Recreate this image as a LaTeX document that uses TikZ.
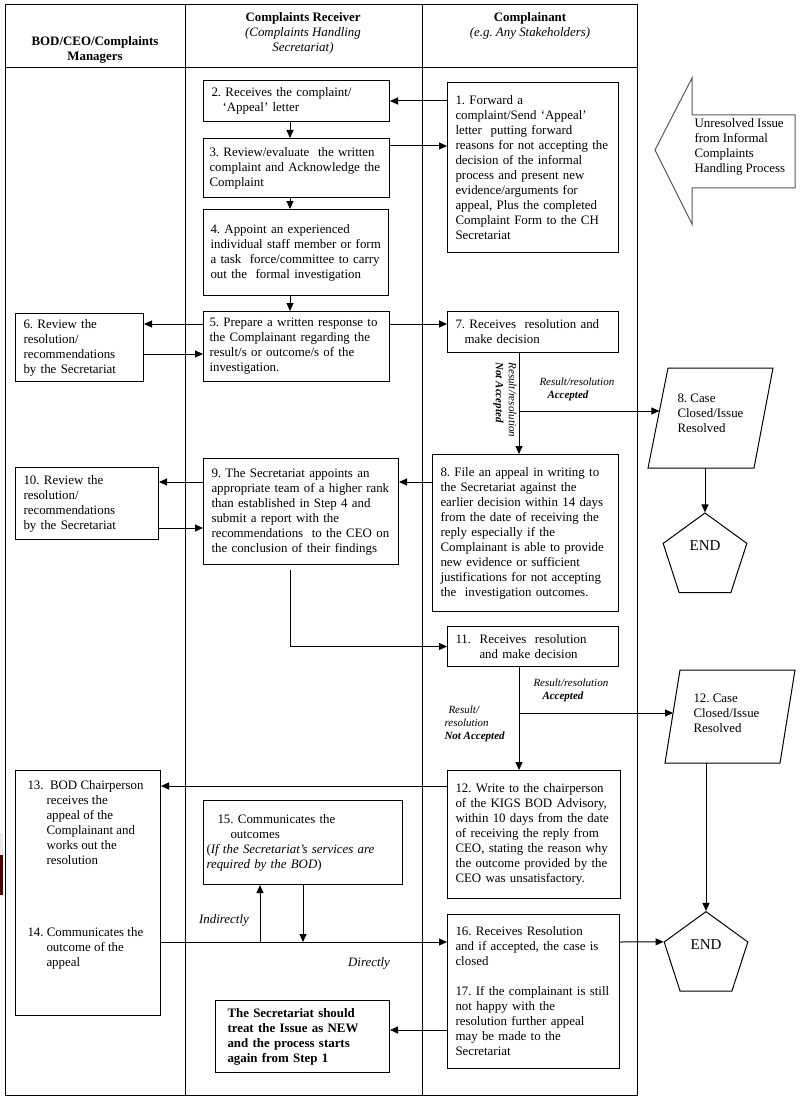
\documentclass[tikz,border=0pt]{standalone}
\usepackage{fontspec}
\setmainfont{Liberation Serif}
\usetikzlibrary{arrows.meta,shapes.geometric}

\begin{document}
\frenchspacing
\begin{tikzpicture}[x=1pt,y=-1pt,>={Triangle[length=8pt,width=7pt]},line width=1pt,
 font=\fontsize{12.9}{15}\selectfont,
 box/.style={draw,anchor=north west,align=left,inner xsep=8pt,inner ysep=0pt},
 txt/.style={anchor=north west,align=left,inner sep=0pt},
 lbl/.style={inner sep=0pt,align=left,font=\fontsize{11}{13}\selectfont\itshape},
 endpent/.style={draw,regular polygon,regular polygon sides=5,minimum size=88pt,inner sep=0pt,font=\fontsize{15}{17}\selectfont}]
\useasboundingbox (0,0) rectangle (803,1102);

% lanes
\draw (5,5) rectangle (637,1095);
\draw (5,68) -- (637,68);
\draw (185,5) -- (185,1095);
\draw (422,5) -- (422,1095);
\fill[black!8] (0,833) rectangle (2.5,855);
\fill[red!35!black] (0,855) rectangle (2.5,895);

\node[align=center,font=\fontsize{12.9}{15}\selectfont\bfseries] (hbod) at (95,50) {BOD/CEO/Complaints\\Managers};
\node[align=center] (hrec) at (303,33) {\textbf{Complaints Receiver}\\\textit{(Complaints Handling}\\\textit{Secretariat)}};
\node[align=center] (hcmp) at (530,26) {\textbf{Complainant}\\\textit{(e.g. Any Stakeholders)}};

\coordinate (lane2) at (290,0);
\coordinate (lane3) at (519,0);

\node[box,minimum width=171pt,minimum height=170pt,text width=155pt] (b1) at (447,82) {1. Forward a\\complaint/Send ‘Appeal’\\letter\ \ putting forward\\reasons for not accepting the\\decision of the informal\\process and present new\\evidence/arguments for\\appeal, Plus the completed\\Complaint Form to the CH\\Secretariat};
\node[box,minimum width=186pt,minimum height=41pt,text width=170pt] (b2) at (203,80) {2. Receives the complaint/\\\hspace*{11pt}‘Appeal’ letter};
\node[box,inner xsep=6pt,minimum width=186pt,minimum height=59pt,text width=174pt] (b3) at (203,138) {3. Review/evaluate\ \ the written\\complaint and Acknowledge the\\Complaint};
\node[box,inner xsep=7pt,minimum width=185pt,minimum height=86pt,text width=171pt] (b4) at (203,209) {4. Appoint an experienced\\individual staff member or form\\a task\ \ force/committee to carry\\out the\ \ formal investigation};
\node[box,inner xsep=6pt,minimum width=186pt,minimum height=70pt,text width=174pt] (b5) at (203,311) {5. Prepare a written response to\\the Complainant regarding the\\result/s or outcome/s of the\\investigation.};
\node[box,minimum width=128pt,minimum height=68pt,text width=112pt] (b6) at (15,313) {6. Review the\\resolution/\\recommendations\\by the Secretariat};
\node[box,minimum width=171pt,minimum height=41pt,text width=155pt] (b7) at (447,311) {7. Receives\ \ resolution and\\\hspace*{9pt}make decision};
\node[box,minimum width=186pt,minimum height=157pt,text width=170pt] (b8) at (432,454) {8. File an appeal in writing to\\the Secretariat against the\\earlier decision within 14 days\\from the date of receiving the\\reply especially if the\\Complainant is able to provide\\new evidence or sufficient\\justifications for not accepting\\the\ \ investigation outcomes.};
\node[box,minimum width=195pt,minimum height=106pt,text width=179pt] (b9) at (203,458) {9. The Secretariat appoints an\\appropriate team of a higher rank\\than established in Step 4 and\\submit a report with the\\recommendations\ \ to the CEO on\\the conclusion of their findings};
\node[box,minimum width=143pt,minimum height=72pt,text width=127pt] (b10) at (15,467) {10. Review the\\resolution/\\recommendations\\by the Secretariat};
\node[box,minimum width=171pt,minimum height=40pt,text width=155pt] (b11) at (447,626) {11.\ \ Receives\ \ resolution\\\hspace*{24pt}and make decision};
\node[box,minimum width=173pt,minimum height=128pt,text width=157pt] (b12) at (447,770) {12. Write to the chairperson\\of the KIGS BOD Advisory,\\within 10 days from the date\\of receiving the reply from\\CEO, stating the reason why\\the outcome provided by the\\CEO was unsatisfactory.};
\node[box,minimum width=145pt,minimum height=245pt] (b13) at (15,770) {};
\node[txt] (t13) at (27,780) {13.\ \ BOD Chairperson\\\hspace*{19pt}receives the\\\hspace*{19pt}appeal of the\\\hspace*{19pt}Complainant and\\\hspace*{19pt}works out the\\\hspace*{19pt}resolution};
\node[txt] (t14) at (27,927) {14. Communicates the\\\hspace*{19pt}outcome of the\\\hspace*{19pt}appeal};
\node[box,inner xsep=3pt,minimum width=199pt,minimum height=84pt,text width=193pt] (b15) at (203,800) {\hspace*{11pt}15. Communicates the\\\hspace*{24pt}outcomes\\(\textit{If the Secretariat’s services are}\\\textit{required by the BOD})};
\node[box,minimum width=172pt,minimum height=154pt,text width=156pt] (b16) at (447,914) {16. Receives Resolution\\and if accepted, the case is\\closed\\[15pt]17. If the complainant is still\\not happy with the\\resolution further appeal\\may be made to the\\Secretariat};
\node[box,inner xsep=12pt,minimum width=174pt,minimum height=72pt,text width=150pt,font=\fontsize{12.9}{15}\selectfont\bfseries] (bnew) at (215,1000) {The Secretariat should\\treat the Issue as NEW\\and the process starts\\again from Step 1};

% side shapes
\draw[black!65] (655,150) -- (692,78) -- (692,115) -- (795,115) -- (795,188) -- (692,188) -- (692,224) -- cycle;
\node[txt,anchor=west] (issue) at (694,147) {Unresolved Issue\\from Informal\\Complaints\\Handling Process};

\draw (668,368) -- (773,368) -- (754,468) -- (648,468) -- cycle;
\node[txt,anchor=west] (case8) at (677,413) {8. Case\\Closed/Issue\\Resolved};
\coordinate (p8in) at (659.4,411);
\coordinate (p8out) at (705,468);
\node[endpent] (end1) at (705,557) {\raisebox{22pt}{END}};

\draw (680,670) -- (795,670) -- (780,763) -- (665,763) -- cycle;
\node[txt,anchor=west] (case12) at (693,713) {12. Case\\Closed/Issue\\Resolved};
\coordinate (p12in) at (673,713);
\coordinate (p12out) at (706,763);
\node[endpent] (end2) at (706,955.6) {\raisebox{22pt}{END}};

% connectors
\draw[->] (b2.east -| b1.west) -- (b2.east);
\coordinate (c3) at ([yshift=-8pt]b3.north east);
\draw[->] (c3) -- (c3 -| b1.west);
\draw[->] (b2.south -| lane2) -- (b3.north -| lane2);
\draw[->] (b3.south -| lane2) -- (b4.north -| lane2);
\draw[->] (b4.south -| lane2) -- (b5.north -| lane2);
\coordinate (c5) at ([yshift=-13pt]b5.north west);
\draw[->] (c5) -- (c5 -| b6.east);
\coordinate (c6) at ([yshift=-41pt]b6.north east);
\draw[->] (c6) -- (c6 -| b5.west);
\draw[->] (c5 -| b5.east) -- (c5 -| b7.west);
\draw[->] (b7.south -| lane3) -- (b8.north -| lane3);
\draw[->] (lane3 |- p8in) -- (p8in);
\node[lbl,rotate=-90,anchor=north west] (nacc1) at (517,362) {Result/resolution\\\textbf{Not Accepted}};
\node[lbl,anchor=north west] (acc1) at (539,377) {Result/resolution\\\hspace*{8pt}\textbf{Accepted}};
\draw[->] (p8out) -- (end1.corner 1);
\coordinate (c8) at ([yshift=-28pt]b8.north west);
\draw[->] (c8) -- (c8 -| b9.east);
\draw[->] (c8 -| b9.west) -- (c8 -| b10.east);
\coordinate (c10) at ([yshift=-61pt]b10.north east);
\draw[->] (c10) -- (c10 -| b9.west);
\coordinate (c9) at ([yshift=-5pt]b9.south);
\draw[->] (c9 -| lane2) |- (b11.west);
\draw[->] (b11.south -| lane3) -- (b12.north -| lane3);
\draw[->] (lane3 |- p12in) -- (p12in);
\node[lbl,anchor=north west] (acc2) at (533,678) {Result/resolution\\\hspace*{9pt}\textbf{Accepted}};
\node[lbl,anchor=north west] (nacc2) at (444,705) {\hspace*{4pt}Result/\\resolution\\\textbf{Not Accepted}};
\draw[->] (p12out) -- (end2.corner 1);
\coordinate (c12) at ([yshift=-16pt]b12.north west);
\draw[->] (c12) -- (c12 -| b13.east);
\coordinate (c16) at ([yshift=-28pt]b16.north west);
\coordinate (ind) at (260,0);
\coordinate (dir) at (303,0);
\draw[->] (c16 -| b13.east) -- (c16);
\draw[->] (c16 -| ind) -- (b15.south -| ind);
\draw[->] (b15.south -| dir) -- (c16 -| dir);
\node[inner sep=0pt,font=\fontsize{12.9}{15}\selectfont\itshape] (indl) at (224,920) {Indirectly};
\node[inner sep=0pt,font=\fontsize{12.9}{15}\selectfont\itshape] (dirl) at (369,963) {Directly};
\draw[->] (c16 -| b16.east) -- (end2.corner 2);
\coordinate (c17) at ([yshift=-116pt]b16.north west);
\draw[->] (c17) -- (c17 -| bnew.east);
\end{tikzpicture}
\end{document}
